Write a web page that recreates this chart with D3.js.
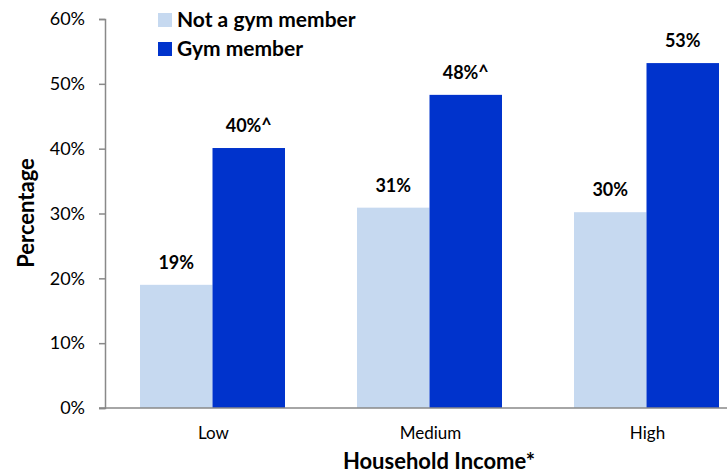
<!DOCTYPE html>
<html>
<head>
<meta charset="utf-8">
<script src="https://cdn.jsdelivr.net/npm/d3@7"></script>
<style>
  body { margin: 0; background: #fff; }
  text { font-family: Lato, "Open Sans", sans-serif; }
</style>
</head>
<body>
<script>
const categories = ['Low', 'Medium', 'High'];
const series = ['Not a gym member', 'Gym member'];
const notMember = [19.0, 30.9, 30.2];
const member = [40.1, 48.3, 53.2];
const notMemberLabels = ['19%', '31%', '30%'];
const memberLabels = ['40%^', '48%^', '53%'];
const yTicks = [0, 10, 20, 30, 40, 50, 60];

const colors = ['#c6d9f0', '#0033cc'];
const width = 727, height = 475;

const svg = d3.select('body').append('svg').attr('width', width).attr('height', height);

const y = d3.scaleLinear().domain([0, 60]).range([408, 19]);
const x0 = d3.scaleBand().domain(categories).range([105, 756]);
const x1 = d3.scaleBand().domain(series).range([35, 180]);

const rows = categories.map((c, i) => ({
  cat: c,
  vals: [
    { s: series[0], v: notMember[i], label: notMemberLabels[i] },
    { s: series[1], v: member[i], label: memberLabels[i] }
  ]
}));

// y axis
const yAxis = svg.append('g')
    .attr('transform', 'translate(105,0)')
    .call(d3.axisLeft(y).tickValues(yTicks).tickSize(6).tickFormat(d => d + '%'));
yAxis.select('.domain').attr('stroke', '#898989').attr('stroke-width', 1.5);
yAxis.selectAll('.tick line').attr('stroke', '#898989').attr('stroke-width', 1.5);
yAxis.selectAll('.tick text').attr('font-size', 18).attr('fill', '#000').attr('x', -20);

const groups = svg.selectAll('.grp')
  .data(rows)
  .enter().append('g')
    .attr('class', 'grp')
    .attr('transform', d => 'translate(' + x0(d.cat) + ',0)');

groups.selectAll('rect')
  .data(d => d.vals)
  .enter().append('rect')
    .attr('x', d => x1(d.s))
    .attr('width', x1.bandwidth())
    .attr('y', d => y(d.v))
    .attr('height', d => y(0) - y(d.v))
    .attr('fill', (d, i) => colors[i]);

groups.selectAll('.lbl')
  .data(d => d.vals)
  .enter().append('text')
    .attr('class', 'lbl')
    .attr('x', d => x1(d.s) + x1.bandwidth() / 2)
    .attr('y', d => y(d.v) - 16)
    .attr('text-anchor', 'middle')
    .attr('font-size', 18)
    .attr('font-weight', 'bold')
    .text(d => d.label);

// x axis line
svg.append('line')
    .attr('x1', 99).attr('x2', 727)
    .attr('y1', y(0)).attr('y2', y(0))
    .attr('stroke', '#898989').attr('stroke-width', 1.5);

svg.selectAll('.cat')
  .data(categories)
  .enter().append('text')
    .attr('class', 'cat')
    .attr('x', d => x0(d) + x0.bandwidth() / 2)
    .attr('y', 439)
    .attr('text-anchor', 'middle')
    .attr('font-size', 17)
    .text(d => d);

svg.append('text')
    .attr('x', 439).attr('y', 469)
    .attr('text-anchor', 'middle')
    .attr('font-size', 22)
    .attr('font-weight', 'bold')
    .text('Household Income*');

svg.append('text')
    .attr('transform', 'translate(34,213) rotate(-90)')
    .attr('text-anchor', 'middle')
    .attr('font-size', 22)
    .attr('font-weight', 'bold')
    .text('Percentage');

// legend
const legend = svg.selectAll('.leg')
  .data(series)
  .enter().append('g')
    .attr('class', 'leg')
    .attr('transform', (d, i) => 'translate(158,' + (13 + i * 29) + ')');
legend.append('rect').attr('width', 14).attr('height', 14).attr('fill', (d, i) => colors[i]);
legend.append('text')
    .attr('x', 19).attr('y', 14)
    .attr('font-size', 21)
    .attr('font-weight', 'bold')
    .text(d => d);
</script>
</body>
</html>
